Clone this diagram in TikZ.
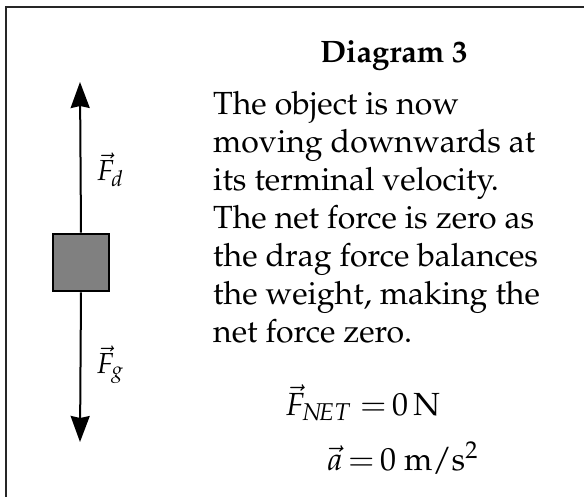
\documentclass[tikz,border=0pt]{standalone}
\usepackage[T1]{fontenc}
\usepackage{mathpazo}
\usetikzlibrary{arrows.meta}
\tikzset{
  frame/.style={line width=2pt,draw=black!85},
  mass/.style={draw,line width=2.6pt,fill=black!50,minimum width=56pt,minimum height=57pt,inner sep=0pt},
  force/.style={line width=2pt,-{Stealth[length=26pt,width=19pt,inset=2pt]}},
  flabel/.style={font=\fontsize{29}{34}\selectfont,inner sep=0pt},
  title/.style={font=\fontsize{31}{36}\selectfont\bfseries,anchor=base,inner sep=0pt},
  body/.style={font=\fontsize{32}{38}\selectfont,align=left,anchor=north west,inner sep=0pt},
  eqn/.style={font=\fontsize{32}{38}\selectfont,anchor=base west,inner sep=0pt},
}
\begin{document}
\begin{tikzpicture}[x=1pt,y=-1pt]
  \useasboundingbox (0,0) rectangle (584,497);
  % frame, only the left and top sides show
  \draw[frame] (6,497) -- (6,7) -- (584,7);
  % falling object and the two forces
  \node[mass] (obj) at (81,262.5) {};
  \coordinate (uptip) at (80,82);
  \coordinate (downtip) at (80,442);
  \draw[force] (obj.north) -- (uptip);
  \draw[force] (obj.south) -- (downtip);
  \node[flabel] (fd) at (110,170) {$\vec{F}_{d}$};
  \node[flabel] (fg) at (110,365) {$\vec{F}_{g}$};
  % text
  \node[title] (ttl) at (394,63) {Diagram 3};
  \node[body] (txt) at (213,91) {The object is now\\moving downwards at\\its terminal velocity.\\The net force is zero as\\the drag force balances\\the weight, making the\\net force zero.};
  \node[eqn] (fnet) at (285,415) {$\vec{F}_{N\!ET}\;{=}\,0$\,N};
  \node[eqn] (acc) at (327,470) {$\vec{a}\,{=}\,0$ m/s$^2$};
\end{tikzpicture}
\end{document}
